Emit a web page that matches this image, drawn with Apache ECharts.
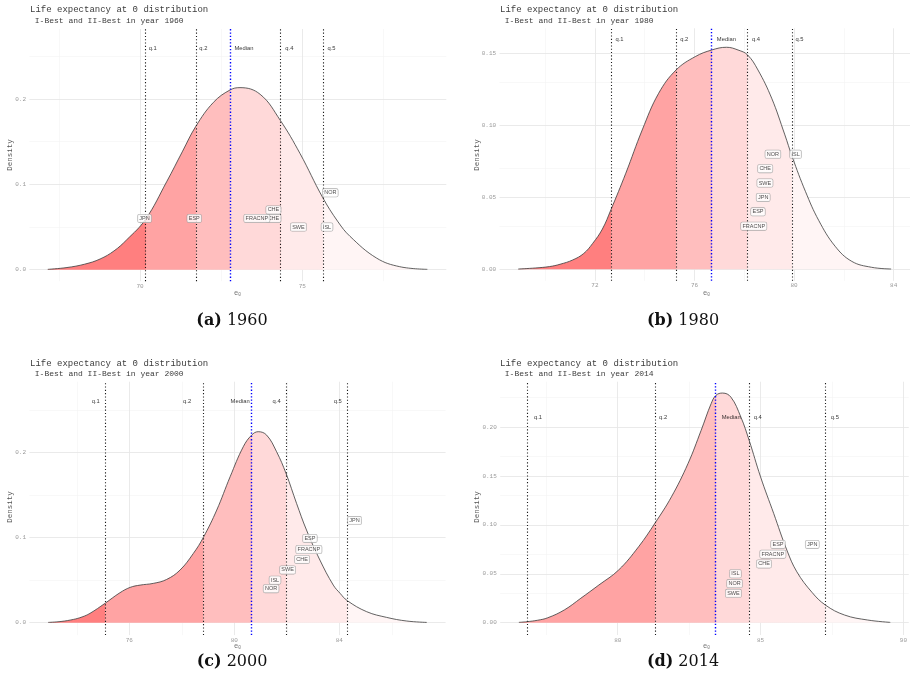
<!DOCTYPE html>
<html><head><meta charset="utf-8">
<script src="https://cdn.jsdelivr.net/npm/echarts@6/dist/echarts.min.js"></script>
<style>html,body{margin:0;padding:0;background:#fff}#c{width:910px;height:688px}</style>
</head><body><div id="c"></div>
<script>
// ---------------- data ----------------
const years = ['1960', '1980', '2000', '2014'];
const panelTags = ['(a)', '(b)', '(c)', '(d)'];
const quantNames = ['q.1', 'q.2', 'Median', 'q.4', 'q.5'];

// density curves (e0, density)
const e0_1960 = [67.16, 67.75, 68.3, 68.77, 69.2, 69.59, 70.17, 70.82, 71.3, 71.72, 72.26, 72.77, 73.08, 73.7, 74.32, 74.93, 75.62, 76.1, 76.47, 77.29, 78.0, 78.85];
const dens_1960 = [0.0004, 0.0025, 0.0065, 0.0125, 0.022, 0.035, 0.059, 0.103, 0.138, 0.168, 0.196, 0.2105, 0.2133, 0.2055, 0.175, 0.136, 0.085, 0.056, 0.039, 0.0135, 0.0035, 0.0004];

const e0_1980 = [68.92, 69.6, 70.18, 70.6, 71.11, 71.55, 71.91, 72.3, 72.64, 73.24, 73.9, 74.56, 75.26, 76.03, 76.69, 77.29, 77.75, 78.13, 78.55, 79.1, 79.62, 79.93, 80.46, 80.99, 81.65, 82.32, 83.11, 83.9];
const dens_1980 = [0.0002, 0.0009, 0.0019, 0.0035, 0.0065, 0.011, 0.018, 0.028, 0.0413, 0.0668, 0.0969, 0.1224, 0.1386, 0.1479, 0.1525, 0.1544, 0.1525, 0.1491, 0.1386, 0.119, 0.094, 0.078, 0.054, 0.034, 0.016, 0.0055, 0.0014, 0.0002];

const e0_2000 = [72.91, 73.4, 73.87, 74.2, 74.5, 75.07, 75.64, 76.03, 76.41, 76.91, 77.42, 77.93, 78.44, 78.82, 79.33, 79.84, 80.34, 80.66, 80.91, 81.23, 81.61, 81.97, 82.37, 82.75, 83.26, 83.77, 84.03, 84.3, 85.04, 85.8, 86.57, 87.33];
const dens_2000 = [0.0004, 0.0015, 0.0039, 0.0068, 0.011, 0.0227, 0.0352, 0.0415, 0.0442, 0.0462, 0.0508, 0.0618, 0.0814, 0.1002, 0.1323, 0.1714, 0.2066, 0.2203, 0.2243, 0.2203, 0.2008, 0.1753, 0.1402, 0.1088, 0.0736, 0.0442, 0.0345, 0.026, 0.013, 0.0063, 0.002, 0.0004];

const e0_2014 = [76.54, 76.82, 77.2, 77.55, 78.13, 78.71, 79.34, 80.03, 80.73, 81.31, 81.88, 82.46, 82.92, 83.27, 83.44, 83.67, 83.96, 84.31, 84.6, 85.0, 85.46, 85.92, 86.27, 86.8, 87.27, 87.94, 88.75, 89.54];
const dens_2014 = [0.0003, 0.001, 0.0025, 0.005, 0.013, 0.025, 0.0385, 0.0538, 0.0776, 0.102, 0.1286, 0.1626, 0.1966, 0.2239, 0.2324, 0.2347, 0.2306, 0.2102, 0.1864, 0.149, 0.1116, 0.0742, 0.052, 0.031, 0.018, 0.0078, 0.0027, 0.0003];

// quantile positions (q.1, q.2, Median, q.4, q.5)
const quant_1960 = [70.17, 71.73, 72.78, 74.33, 75.63];
const quant_1980 = [72.64, 75.26, 76.69, 78.12, 79.93];
const quant_2000 = [75.07, 78.82, 80.66, 81.96, 84.30];
const quant_2014 = [76.82, 81.30, 83.43, 84.61, 87.27];

// quantile text anchors (data units)
const qLabX_1960 = [70.39, 71.95, 73.2, 74.6, 75.9];
const qLabX_1980 = [72.99, 75.59, 77.28, 78.47, 80.22];
const qLabX_2000 = [74.72, 78.2, 80.22, 81.61, 83.94];
const qLabX_2014 = [77.21, 81.59, 83.97, 84.9, 87.6];
const qLabY = [0.259, 0.1596, 0.2595, 0.2095];

// country labels
const ctry_1960 = ['JPN', 'ESP', 'CHE', 'FRACNP', 'CHE', 'SWE', 'ISL', 'NOR'];
const ctryX_1960 = [70.14, 71.67, 74.11, 73.6, 74.11, 74.88, 75.76, 75.86];
const ctryY_1960 = [0.06, 0.06, 0.06, 0.06, 0.07, 0.05, 0.05, 0.09];

const ctry_1980 = ['NOR', 'ISL', 'CHE', 'SWE', 'JPN', 'ESP', 'FRACNP'];
const ctryX_1980 = [79.15, 80.06, 78.84, 78.83, 78.76, 78.55, 78.38];
const ctryY_1980 = [0.08, 0.08, 0.07, 0.06, 0.05, 0.04, 0.03];

const ctry_2000 = ['JPN', 'ESP', 'FRACNP', 'CHE', 'SWE', 'ISL', 'NOR'];
const ctryX_2000 = [84.58, 82.88, 82.84, 82.58, 82.03, 81.55, 81.4];
const ctryY_2000 = [0.12, 0.099, 0.086, 0.0744, 0.062, 0.05, 0.04];

const ctry_2014 = ['JPN', 'ESP', 'FRACNP', 'CHE', 'ISL', 'NOR', 'SWE'];
const ctryX_2014 = [86.81, 85.61, 85.43, 85.12, 84.12, 84.09, 84.05];
const ctryY_2014 = [0.08, 0.08, 0.07, 0.06, 0.05, 0.04, 0.03];

// tick values
const xTicks_1960 = [70, 75], xMinor_1960 = [67.5, 72.5, 77.5];
const yTicks_1960 = [0, 0.1, 0.2], yMinor_1960 = [0.05, 0.15, 0.25];
const xTicks_1980 = [72, 76, 80, 84], xMinor_1980 = [70, 74, 78, 82];
const yTicks_1980 = [0, 0.05, 0.10, 0.15], yMinor_1980 = [0.025, 0.075, 0.125];
const xTicks_2000 = [76, 80, 84], xMinor_2000 = [74, 78, 82, 86];
const yTicks_2000 = [0, 0.1, 0.2], yMinor_2000 = [0.05, 0.15, 0.25];
const xTicks_2014 = [80, 85, 90], xMinor_2014 = [77.5, 82.5, 87.5];
const yTicks_2014 = [0, 0.05, 0.10, 0.15, 0.20], yMinor_2014 = [0.025, 0.075, 0.125, 0.175, 0.225];

// ---------------- assembly ----------------
const panels = [
  {x: e0_1960, y: dens_1960, q: quant_1960, qlx: qLabX_1960, cn: ctry_1960, cx: ctryX_1960, cy: ctryY_1960, xT: xTicks_1960, xM: xMinor_1960, yT: yTicks_1960, yM: yMinor_1960},
  {x: e0_1980, y: dens_1980, q: quant_1980, qlx: qLabX_1980, cn: ctry_1980, cx: ctryX_1980, cy: ctryY_1980, xT: xTicks_1980, xM: xMinor_1980, yT: yTicks_1980, yM: yMinor_1980},
  {x: e0_2000, y: dens_2000, q: quant_2000, qlx: qLabX_2000, cn: ctry_2000, cx: ctryX_2000, cy: ctryY_2000, xT: xTicks_2000, xM: xMinor_2000, yT: yTicks_2000, yM: yMinor_2000},
  {x: e0_2014, y: dens_2014, q: quant_2014, qlx: qLabX_2014, cn: ctry_2014, cx: ctryX_2014, cy: ctryY_2014, xT: xTicks_2014, xM: xMinor_2014, yT: yTicks_2014, yM: yMinor_2014}
];

// layout (pixels / axis ranges) and styles
const layout = [
  {left: 29.4, top: 29, width: 416.9, height: 252.2, xMin: 66.593, xMax: 79.434, yMin: -0.0135, yMax: 0.282, tX: 30, tY: 10, capX: 232, capY: 321, dX: 10, dY: 155, eX: 237.5, eY: 293.5, dec: 1},
  {left: 499.5, top: 28.3, width: 413.6, height: 252.5, xMin: 68.167, xMax: 84.657, yMin: -0.008, yMax: 0.1676, tX: 500, tY: 10, capX: 683, capY: 321, dX: 476.7, dY: 155, eX: 706.5, eY: 293.5, dec: 2},
  {left: 29.4, top: 381.7, width: 416.2, height: 253.4, xMin: 72.194, xMax: 88.048, yMin: -0.0145, yMax: 0.283, tX: 30, tY: 363.3, capX: 232, capY: 662, dX: 10, dY: 507, eX: 237.5, eY: 646.5, dec: 1},
  {left: 500.2, top: 381.7, width: 412.9, height: 253.3, xMin: 75.886, xMax: 90.188, yMin: -0.0126, yMax: 0.2463, tX: 500, tY: 363.3, capX: 683, capY: 662, dX: 476.7, dY: 507, eX: 706.5, eY: 646.5, dec: 2}
];

const bandColors = ['#FF7F7F', '#FFA3A3', '#FFBEBE', '#FFD9D9', '#FFEAEA', '#FFF5F5'];
const majorGrid = {color: '#E8E8E8', width: 0.9, type: 'solid'};
const minorGrid = {color: '#F3F3F3', width: 0.6, type: 'solid'};
const qLine = {color: '#1a1a1a', width: 1.1, type: [1.1, 2.2]};
const medLine = {color: '#0000FF', width: 1.4, type: [1.3, 2.0]};
const monoFont = '"Liberation Mono", "DejaVu Sans Mono", monospace';
const sansFont = '"Liberation Sans", Arial, sans-serif';

const option = {animation: false, grid: [], xAxis: [], yAxis: [], series: [], visualMap: [], title: [], graphic: []};

panels.forEach((p, i) => {
  const L = layout[i];
  option.grid.push({left: L.left, top: L.top, width: L.width, height: L.height, containLabel: false});
  option.xAxis.push({
    type: 'value', gridIndex: i, min: L.xMin, max: L.xMax,
    axisLine: {show: false}, axisTick: {show: false}, splitLine: {show: false},
    axisLabel: {customValues: p.xT, margin: 2, fontSize: 6, fontFamily: monoFont, color: '#9a9a9a', formatter: v => String(v)}
  });
  option.yAxis.push({
    type: 'value', gridIndex: i, min: L.yMin, max: L.yMax,
    axisLine: {show: false}, axisTick: {show: false}, splitLine: {show: false},
    axisLabel: {customValues: p.yT, margin: 3.4, fontSize: 6, fontFamily: monoFont, color: '#9a9a9a', formatter: v => v.toFixed(L.dec)}
  });
  // background grid lines
  option.series.push({
    type: 'line', xAxisIndex: i, yAxisIndex: i, data: [], silent: true, z: 1,
    markLine: {
      silent: true, symbol: ['none', 'none'], label: {show: false}, z: 1, animation: false,
      data: [].concat(
        p.xM.map(v => ({xAxis: v, lineStyle: minorGrid})),
        p.yM.map(v => ({yAxis: v, lineStyle: minorGrid})),
        p.xT.map(v => ({xAxis: v, lineStyle: majorGrid})),
        p.yT.map(v => ({yAxis: v, lineStyle: majorGrid}))
      )
    }
  });
  // density area
  const areaIdx = option.series.length;
  option.series.push({
    type: 'line', name: 'Density ' + years[i], xAxisIndex: i, yAxisIndex: i,
    data: p.x.map((v, k) => [v, p.y[k]]),
    smooth: 0.4, showSymbol: false, symbol: 'none', z: 2, silent: true,
    lineStyle: {color: '#3a3a3a', width: 0.8},
    areaStyle: {opacity: 1},
    markLine: {
      silent: true, symbol: ['none', 'none'], label: {show: false}, z: 3, animation: false,
      data: p.q.map((v, k) => ({xAxis: v, lineStyle: k === 2 ? medLine : qLine}))
    }
  });
  const pieces = [{lt: p.q[0], color: bandColors[0]}];
  for (let k = 0; k < 4; k++) pieces.push({gte: p.q[k], lt: p.q[k + 1], color: bandColors[k + 1]});
  pieces.push({gte: p.q[4], color: bandColors[5]});
  option.visualMap.push({type: 'piecewise', show: false, dimension: 0, seriesIndex: areaIdx, pieces: pieces});
  // quantile texts
  option.series.push({
    type: 'scatter', xAxisIndex: i, yAxisIndex: i, symbolSize: 0, silent: true, z: 4,
    data: quantNames.map((n, k) => ({name: n, value: [p.qlx[k], qLabY[i]]})),
    label: {show: true, position: 'inside', formatter: '{b}', fontSize: 5.8, fontFamily: sansFont, color: '#000'}
  });
  // country labels
  option.series.push({
    type: 'scatter', xAxisIndex: i, yAxisIndex: i, symbolSize: 0, silent: true, z: 5,
    data: p.cn.map((n, k) => ({name: n, value: [p.cx[k], p.cy[k]]})),
    label: {show: true, position: 'inside', formatter: '{b}', fontSize: 5.5, fontFamily: sansFont, color: '#222',
      backgroundColor: '#ffffff', borderColor: '#9a9a9a', borderWidth: 0.6, borderRadius: 1.5, padding: [1.2, 1.5, 0.6, 1.5]}
  });
  // titles
  option.title.push({
    text: 'Life expectancy at 0 distribution', subtext: ' I-Best and II-Best in year ' + years[i],
    left: L.tX, top: L.tY - 5, padding: 0, itemGap: 1.2,
    textStyle: {fontFamily: monoFont, fontSize: 9, fontWeight: 'normal', color: '#3c3c3c', lineHeight: 10},
    subtextStyle: {fontFamily: monoFont, fontSize: 8, color: '#3c3c3c', lineHeight: 9}
  });
  // axis names and caption
  option.graphic.push({
    type: 'text', x: L.dX, y: L.dY, rotation: Math.PI / 2, silent: true,
    style: {text: 'Density', fontFamily: monoFont, fontSize: 7.5, fill: '#555', align: 'center', verticalAlign: 'middle'}
  });
  option.graphic.push({
    type: 'text', x: L.eX, y: L.eY, silent: true,
    style: {text: '{e|e}{s|0}', align: 'center', verticalAlign: 'middle', fontFamily: monoFont, fontSize: 7, fill: '#777',
      rich: {e: {fontFamily: monoFont, fontSize: 7, fill: '#777'}, s: {fontFamily: monoFont, fontSize: 4.5, fill: '#777', verticalAlign: 'bottom'}}}
  });
  option.graphic.push({
    type: 'text', x: L.capX, y: L.capY, silent: true,
    style: {text: '{b|' + panelTags[i] + '} {r|' + years[i] + '}', align: 'center', verticalAlign: 'middle',
      fontFamily: '"DejaVu Serif", serif', fontSize: 16, fill: '#111',
      rich: {b: {fontFamily: '"DejaVu Serif", serif', fontWeight: 'bold', fontSize: 16, fill: '#111'},
             r: {fontFamily: '"DejaVu Serif", serif', fontSize: 16, fill: '#111'}}}
  });
});

const chart = echarts.init(document.getElementById('c'), null, {renderer: 'canvas'});
chart.setOption(option);
</script>
</body></html>
